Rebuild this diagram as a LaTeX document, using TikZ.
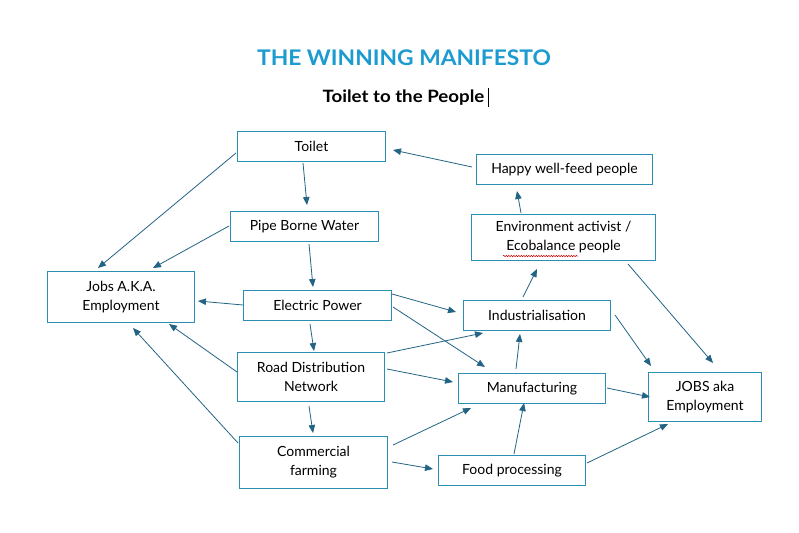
\documentclass[tikz,border=0pt]{standalone}
\usepackage{fontspec}
\setmainfont{Lato}
\newfontfamily\widefont[FakeStretch=1.06]{Lato}
\newfontfamily\subfont[FakeStretch=1.1]{Lato}
\usetikzlibrary{arrows.meta,decorations.pathmorphing}
\definecolor{boxblue}{HTML}{2A8FB3}
\definecolor{arrblue}{HTML}{236485}
\definecolor{titleblue}{HTML}{1C9BD1}
\newcommand{\conn}[6]{\draw[arr] ([shift={(#2,#3)}]#1.center) -- ([shift={(#5,#6)}]#4.center);}
\begin{document}
\begin{tikzpicture}[x=1pt,y=-1pt,
  bx/.style={draw=boxblue,line width=1.8pt,inner sep=0pt,align=center,font=\fontsize{14}{19}\selectfont},
  arr/.style={draw=arrblue,line width=0.8pt,-{Triangle[length=8pt,width=6.5pt]}}]
\fill[white] (0,0) rectangle (799,532);
\useasboundingbox (0,0) rectangle (799,532);
\node[font=\widefont\fontsize{21.5}{24}\selectfont\bfseries,text=titleblue] (title) at (404,58) {THE WINNING MANIFESTO};
\node[font=\subfont\fontsize{17}{20}\selectfont\bfseries] (sub) at (403.5,98) {Toilet to the People};
\coordinate (cur1) at (488,88);
\coordinate (cur2) at (488,107);
\draw[line width=0.8pt] (cur1) -- (cur2);
\node[bx,minimum width=148pt,minimum height=30pt] (toilet) at (311.5,146.5) {Toilet};
\node[bx,minimum width=148pt,minimum height=30pt] (pipe) at (304.5,226.5) {Pipe Borne Water};
\node[bx,minimum width=147pt,minimum height=51pt] (jobs) at (121,297) {Jobs A.K.A.\\Employment};
\node[bx,minimum width=148pt,minimum height=30pt] (elec) at (317.5,305.5) {Electric Power};
\node[bx,minimum width=147pt,minimum height=49pt] (road) at (311,377) {Road Distribution\\Network};
\node[bx,minimum width=148pt,minimum height=52pt] (comm) at (313.5,462.5) {Commercial\\farming};
\node[bx,minimum width=176pt,minimum height=30pt] (happy) at (564.5,169.5) {Happy well-feed people};
\node[bx,minimum width=184pt,minimum height=46pt] (env) at (563.5,237.5) {Environment activist /\\Ecobalance people};
\node[bx,minimum width=147pt,minimum height=30pt] (ind) at (537,315.5) {Industrialisation};
\node[bx,minimum width=147pt,minimum height=30pt] (manuf) at (532,388.5) {Manufacturing};
\node[bx,minimum width=147pt,minimum height=30pt] (food) at (512,470.5) {Food processing};
\node[bx,minimum width=113pt,minimum height=49pt] (jobs2) at (705,397) {JOBS aka\\Employment};
\coordinate (sq1) at (503,256);
\coordinate (sq2) at (578,256);
\draw[red!80!black,line width=0.5pt,decorate,decoration={snake,amplitude=0.7pt,segment length=2.5pt}] (sq1) -- (sq2);
\conn{toilet}{-75.5}{6.5}{jobs}{-23}{-29}
\conn{pipe}{-75.5}{-0.5}{jobs}{32}{-29}
\conn{toilet}{-8.5}{16.5}{pipe}{2.5}{-21.5}
\conn{pipe}{4.5}{17.5}{elec}{-4.5}{-18.5}
\conn{elec}{-74.5}{-0.5}{jobs}{77}{4}
\conn{happy}{-92.5}{-2.5}{toilet}{81.5}{3.5}
\conn{env}{-42.5}{-24.5}{happy}{-47.5}{21.5}
\conn{ind}{-14}{-18.5}{env}{-26.5}{31.5}
\conn{env}{64.5}{26.5}{jobs2}{8}{-34}
\conn{ind}{78}{-0.5}{jobs2}{-54}{-31}
\conn{elec}{74.5}{-11.5}{ind}{-81}{-3.5}
\conn{elec}{75.5}{1.5}{manuf}{-47}{-21.5}
\conn{elec}{-7.5}{18.5}{road}{3}{-26}
\conn{road}{-74}{-5}{jobs}{48}{27}
\conn{comm}{-75.5}{-19.5}{jobs}{12}{31}
\conn{road}{76}{-24}{ind}{-54}{17.5}
\conn{road}{76}{-8}{manuf}{-79}{-6.5}
\conn{road}{-2}{29}{comm}{-0.5}{-29.5}
\conn{comm}{79.5}{-17.5}{manuf}{-61}{19.5}
\conn{comm}{78.5}{-0.5}{food}{-79}{-1.5}
\conn{manuf}{-16}{-19.5}{ind}{-17}{18.5}
\conn{food}{2}{-16.5}{manuf}{-8}{14.5}
\conn{manuf}{75}{-0.5}{jobs2}{-55}{0}
\conn{food}{75}{-7.5}{jobs2}{-37}{27}
\end{tikzpicture}
\end{document}
